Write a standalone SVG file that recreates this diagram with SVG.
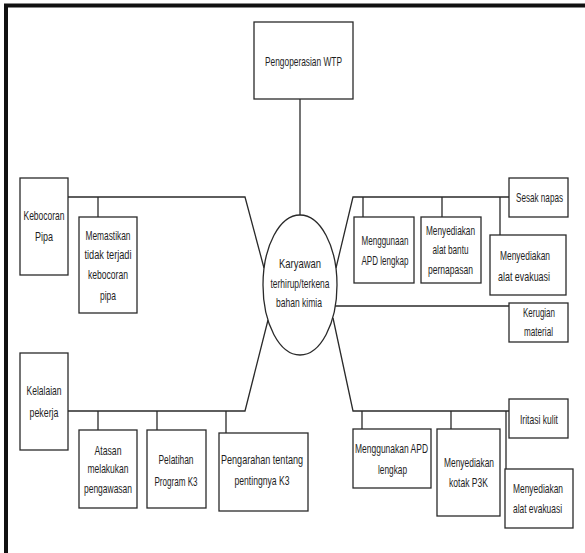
<svg xmlns="http://www.w3.org/2000/svg" width="585" height="553" viewBox="0 0 585 553">
  <style>
    .frame { fill: none; stroke: #111; stroke-width: 4; }
    .box { fill: #fff; stroke: #2a2a2a; stroke-width: 1.3; }
    .link { fill: none; stroke: #2a2a2a; stroke-width: 1.3; }
    text { font-family: "Liberation Sans", Arial, sans-serif; font-size: 13px; fill: #1e1e1e; text-anchor: middle; }
  </style>
  <rect width="585" height="553" fill="#fff"/>
  <!-- page frame: thick top and left rules -->
  <path class="frame" d="M6,553 V5.5 H585"/>

  <g id="connectors">
    <path class="link" d="M300,99 V216"/>
    <path class="link" d="M68,197 H245 L264,268"/>
    <path class="link" d="M98,197 V217"/>
    <path class="link" d="M509,197 H353 L336,268"/>
    <path class="link" d="M363,197 V217 M442,197 V217 M500,197 V235"/>
    <path class="link" d="M335,306 H509"/>
    <path class="link" d="M68,411 H245 L268,320"/>
    <path class="link" d="M98,411 V430 M157,411 V430 M226,411 V433"/>
    <path class="link" d="M509,411 H353 L333,318"/>
    <path class="link" d="M362,411 V429 M451,411 V429 M506,411 V469"/>
  </g>

  <g id="center">
    <ellipse class="box" cx="300" cy="285" rx="37" ry="70"/>
    <text x="300" y="267.5" textLength="42" lengthAdjust="spacingAndGlyphs">Karyawan</text>
    <text x="300" y="287.5" textLength="59" lengthAdjust="spacingAndGlyphs">terhirup/terkena</text>
    <text x="299" y="306.5" textLength="46" lengthAdjust="spacingAndGlyphs">bahan kimia</text>
  </g>

  <g id="wtp">
    <rect class="box" x="254" y="22" width="99" height="77"/>
    <text x="303.5" y="66" textLength="77" lengthAdjust="spacingAndGlyphs">Pengoperasian WTP</text>
  </g>

  <g id="kebocoran">
    <rect class="box" x="20" y="178" width="48" height="97"/>
    <text x="44" y="219.5" textLength="41" lengthAdjust="spacingAndGlyphs">Kebocoran</text>
    <text x="44" y="240.5" textLength="18" lengthAdjust="spacingAndGlyphs">Pipa</text>
  </g>

  <g id="memastikan">
    <rect class="box" x="79" y="217" width="58" height="96"/>
    <text x="108" y="239.5" textLength="45" lengthAdjust="spacingAndGlyphs">Memastikan</text>
    <text x="108" y="258.5" textLength="47" lengthAdjust="spacingAndGlyphs">tidak terjadi</text>
    <text x="108" y="278.5" textLength="40" lengthAdjust="spacingAndGlyphs">kebocoran</text>
    <text x="108" y="299.5" textLength="16" lengthAdjust="spacingAndGlyphs">pipa</text>
  </g>

  <g id="kelalaian">
    <rect class="box" x="20" y="353" width="48" height="97"/>
    <text x="44" y="394.5" textLength="35" lengthAdjust="spacingAndGlyphs">Kelalaian</text>
    <text x="44" y="416.5" textLength="29" lengthAdjust="spacingAndGlyphs">pekerja</text>
  </g>

  <g id="atasan">
    <rect class="box" x="79" y="430" width="58" height="78"/>
    <text x="108" y="454.5" textLength="27" lengthAdjust="spacingAndGlyphs">Atasan</text>
    <text x="108" y="472.5" textLength="41" lengthAdjust="spacingAndGlyphs">melakukan</text>
    <text x="108" y="492.5" textLength="48" lengthAdjust="spacingAndGlyphs">pengawasan</text>
  </g>

  <g id="pelatihan">
    <rect class="box" x="147" y="430" width="59" height="78"/>
    <text x="176" y="463.5" textLength="35" lengthAdjust="spacingAndGlyphs">Pelatihan</text>
    <text x="176" y="485.5" textLength="43" lengthAdjust="spacingAndGlyphs">Program K3</text>
  </g>

  <g id="pengarahan">
    <rect class="box" x="219" y="433" width="89" height="78"/>
    <text x="262" y="463.5" textLength="82" lengthAdjust="spacingAndGlyphs">Pengarahan tentang</text>
    <text x="262" y="484.5" textLength="55" lengthAdjust="spacingAndGlyphs">pentingnya K3</text>
  </g>

  <g id="sesak">
    <rect class="box" x="509" y="178" width="59" height="39"/>
    <text x="539.5" y="201.5" textLength="47" lengthAdjust="spacingAndGlyphs">Sesak napas</text>
  </g>

  <g id="apd-lengkap">
    <rect class="box" x="354" y="217" width="60" height="66"/>
    <text x="385" y="244.5" textLength="47" lengthAdjust="spacingAndGlyphs">Menggunaan</text>
    <text x="385" y="264.5" textLength="47" lengthAdjust="spacingAndGlyphs">APD  lengkap</text>
  </g>

  <g id="alat-bantu">
    <rect class="box" x="421" y="217" width="60" height="66"/>
    <text x="450.5" y="234.5" textLength="49" lengthAdjust="spacingAndGlyphs">Menyediakan</text>
    <text x="450.5" y="253.5" textLength="36" lengthAdjust="spacingAndGlyphs">alat bantu</text>
    <text x="450.5" y="273.5" textLength="45" lengthAdjust="spacingAndGlyphs">pernapasan</text>
  </g>

  <g id="evakuasi-1">
    <rect class="box" x="490" y="235" width="76" height="60"/>
    <text x="525" y="259.5" textLength="50" lengthAdjust="spacingAndGlyphs">Menyediakan</text>
    <text x="524" y="280.5" textLength="52" lengthAdjust="spacingAndGlyphs">alat evakuasi</text>
  </g>

  <g id="kerugian">
    <rect class="box" x="509" y="303" width="59" height="39"/>
    <text x="539" y="316.5" textLength="32" lengthAdjust="spacingAndGlyphs">Kerugian</text>
    <text x="538.5" y="335.5" textLength="29" lengthAdjust="spacingAndGlyphs">material</text>
  </g>

  <g id="iritasi">
    <rect class="box" x="509" y="399" width="59" height="39"/>
    <text x="539" y="423.5" textLength="38" lengthAdjust="spacingAndGlyphs">Iritasi kulit</text>
  </g>

  <g id="apd-lengkap-2">
    <rect class="box" x="353" y="429" width="78" height="59"/>
    <text x="391.5" y="452.5" textLength="73" lengthAdjust="spacingAndGlyphs">Menggunakan APD</text>
    <text x="392.5" y="473.5" textLength="29" lengthAdjust="spacingAndGlyphs">lengkap</text>
  </g>

  <g id="p3k">
    <rect class="box" x="437" y="429" width="63" height="87"/>
    <text x="469" y="466.5" textLength="50" lengthAdjust="spacingAndGlyphs">Menyediakan</text>
    <text x="468.5" y="486.5" textLength="39" lengthAdjust="spacingAndGlyphs">kotak P3K</text>
  </g>

  <g id="evakuasi-2">
    <rect class="box" x="505" y="469" width="68" height="59"/>
    <text x="538" y="492.5" textLength="50" lengthAdjust="spacingAndGlyphs">Menyediakan</text>
    <text x="537.5" y="512.5" textLength="49" lengthAdjust="spacingAndGlyphs">alat evakuasi</text>
  </g>
</svg>
